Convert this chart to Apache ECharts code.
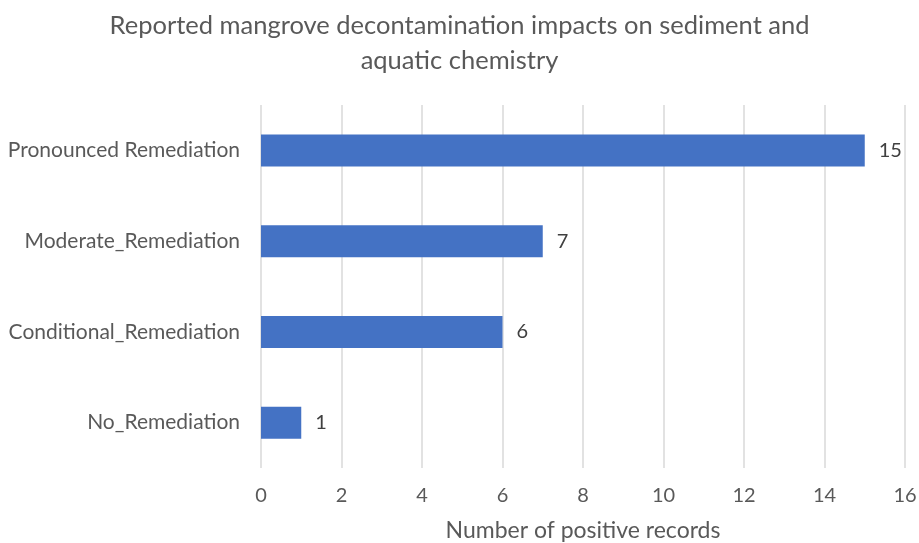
<!DOCTYPE html>
<html>
<head>
<meta charset="utf-8">
<script src="https://cdn.jsdelivr.net/npm/echarts@6/dist/echarts.min.js"></script>
<style>
  html, body { margin: 0; padding: 0; background: #fff; }
  #chart { width: 919px; height: 543px; }
</style>
</head>
<body>
<div id="chart"></div>
<script>
// Categories listed bottom-to-top (category axis on y runs upward)
const categories = ['No_Remediation', 'Conditional_Remediation', 'Moderate_Remediation', 'Pronounced Remediation'];
const records = [1, 6, 7, 15];
const xTicks = { min: 0, max: 16, interval: 2 };

const textColor = '#595959';
const fontFamily = 'Lato, Carlito, "Liberation Sans", sans-serif';

const chart = echarts.init(document.getElementById('chart'), null, { renderer: 'canvas' });
chart.setOption({
  animation: false,
  backgroundColor: '#ffffff',
  textStyle: { fontFamily: fontFamily },
  title: {
    text: 'Reported mangrove decontamination impacts on sediment and\naquatic chemistry',
    left: 'center',
    top: 3,
    textStyle: {
      color: textColor,
      fontSize: 25.5,
      fontWeight: 'normal',
      lineHeight: 35,
      fontFamily: fontFamily
    }
  },
  grid: {
    left: 261, right: 14, top: 105, bottom: 75,
    containLabel: false,
    outerBoundsMode: 'none'
  },
  xAxis: {
    type: 'value',
    min: xTicks.min,
    max: xTicks.max,
    interval: xTicks.interval,
    name: 'Number of positive records',
    nameLocation: 'middle',
    nameGap: 51,
    nameTextStyle: { color: textColor, fontSize: 23, fontFamily: fontFamily },
    axisLine: { show: false },
    axisTick: { show: false },
    axisLabel: { color: textColor, fontSize: 20, margin: 18, fontFamily: fontFamily },
    splitLine: { show: true, lineStyle: { color: '#d9d9d9', width: 1.5 } }
  },
  yAxis: {
    type: 'category',
    data: categories,
    axisLine: { show: false },
    axisTick: { show: false },
    axisLabel: { color: textColor, fontSize: 21, margin: 21, fontFamily: fontFamily }
  },
  series: [{
    type: 'bar',
    data: records,
    barWidth: 32,
    itemStyle: { color: '#4472c4' },
    label: {
      show: true,
      position: 'right',
      distance: 14,
      color: '#404040',
      fontSize: 20,
      fontFamily: fontFamily
    }
  }]
});
</script>
</body>
</html>
